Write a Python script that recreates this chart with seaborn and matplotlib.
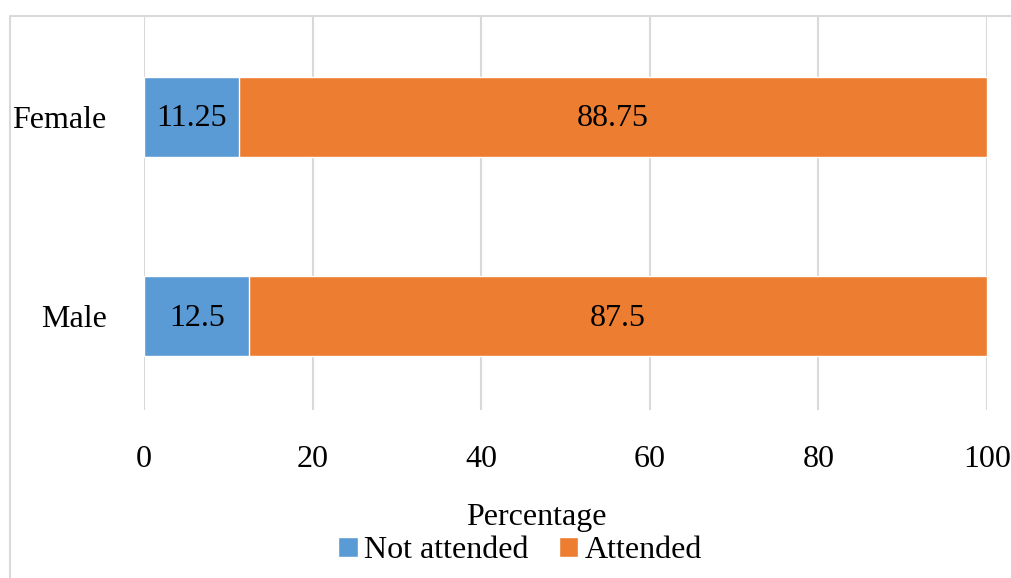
import matplotlib
matplotlib.use("Agg")
import matplotlib.pyplot as plt
from matplotlib.lines import Line2D
from matplotlib.patches import Patch
import pandas as pd
import seaborn as sns

genders = ["Female", "Male"]
not_attended = [11.25, 12.5]
attended = [88.75, 87.5]
xticks = [0, 20, 40, 60, 80, 100]

blue = "#5B9BD5"
orange = "#ED7D31"
grid_color = "#D9D9D9"
fs = 23

sns.set_style("white")
plt.rcParams["font.family"] = ["Liberation Serif", "DejaVu Serif"]
plt.rcParams["font.size"] = fs
plt.rcParams["text.color"] = "black"
plt.rcParams["xtick.color"] = "black"
plt.rcParams["ytick.color"] = "black"

df = pd.DataFrame({"gender": genders, "not_attended": not_attended, "attended": attended})
df["total"] = df["not_attended"] + df["attended"]

fig = plt.figure(figsize=(10.12, 5.78), dpi=100)
ax = fig.add_axes([144 / 1012, 1 - 410 / 578, (987 - 144) / 1012, (410 - 17) / 578])

sns.barplot(data=df, x="total", y="gender", order=genders, color=orange,
            width=0.4, saturation=1, ax=ax, zorder=3)
sns.barplot(data=df, x="not_attended", y="gender", order=genders, color=blue,
            width=0.4, saturation=1, ax=ax, zorder=3)

for i, row in df.iterrows():
    ax.text(row["not_attended"] / 2, i + 0.01, f"{row['not_attended']:g}",
            ha="center", va="center", fontsize=fs, color="black", zorder=4)
    ax.text(row["not_attended"] + row["attended"] / 2, i + 0.01, f"{row['attended']:g}",
            ha="center", va="center", fontsize=fs, color="black", zorder=4)

ax.set_xlim(0, 100)
ax.set_ylim(1.47, -0.5)
ax.set_xticks(xticks)
ax.set_xlabel("")
ax.set_ylabel("")
ax.grid(axis="x", color=grid_color, linewidth=1.5, zorder=0)
ax.set_axisbelow(True)
for s in ax.spines.values():
    s.set_visible(False)
ax.tick_params(axis="x", length=0, pad=25, labelsize=fs, labelcolor="black")
ax.tick_params(axis="y", length=0, pad=27, labelsize=fs, labelcolor="black")

fig.text(536 / 1012, 1 - 517 / 578, "Percentage", ha="center", va="center", fontsize=fs)

handles = [Patch(facecolor=blue, label="Not attended"),
           Patch(facecolor=orange, label="Attended")]
fig.legend(handles=handles, loc="center", bbox_to_anchor=(520 / 1012, 1 - 551 / 578),
           ncol=2, frameon=False, fontsize=fs, handlelength=0.6, handleheight=0.6,
           handletextpad=0.2, columnspacing=0.95, borderpad=0)

# chart border (left and top visible)
fig.add_artist(Line2D([10 / 1012, 10 / 1012, 1], [0, 1 - 16 / 578, 1 - 16 / 578],
                      transform=fig.transFigure, color=grid_color, linewidth=1.5))

fig.savefig("out.png", dpi=100, facecolor="white")
